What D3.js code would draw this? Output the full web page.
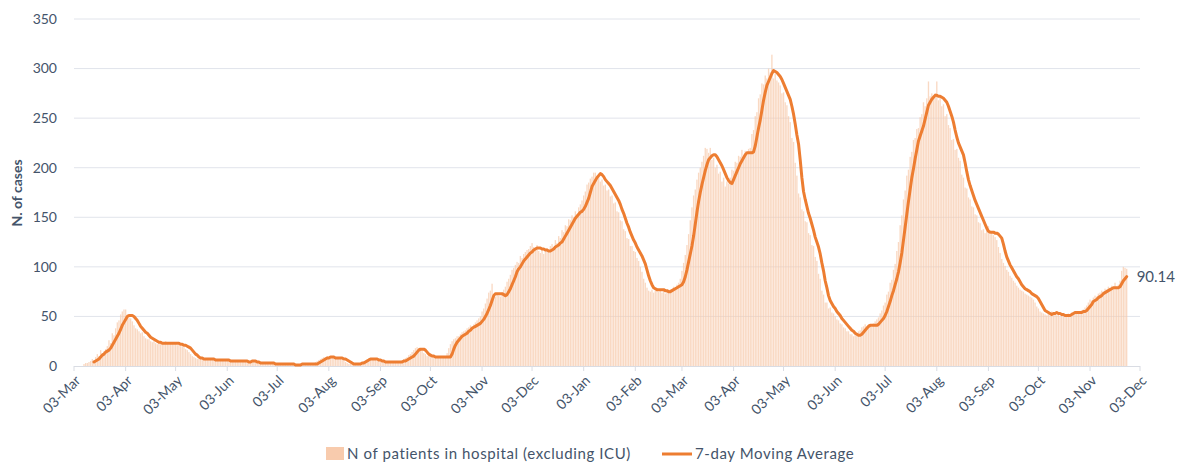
<!DOCTYPE html>
<html><head><meta charset="utf-8">
<script src="https://cdn.jsdelivr.net/npm/d3@7"></script>
<style>
body{margin:0;background:#fff}
text{font-family:Lato,"Open Sans",sans-serif}
</style>
</head><body>
<svg id="chart" width="1184" height="464"></svg>
<script>
// ---- Data: daily N of patients in hospital (excluding ICU), one array per month ----
const patientMonthStarts = ["2020-03-09","2020-04-01","2020-05-01","2020-06-01","2020-07-01","2020-08-01","2020-09-01","2020-10-01","2020-11-01","2020-12-01","2021-01-01","2021-02-01","2021-03-01","2021-04-01","2021-05-01","2021-06-01","2021-07-01","2021-08-01","2021-09-01","2021-10-01","2021-11-01"];
const pMar20 = [2,3,3,4,5,7,6,9,12,10,16,13,15,17,20,26,23,33,31,38,44,46,52];
const pApr20 = [55,57,57,52,49,48,45,41,38,37,35,33,34,30,28,27,27,25,24,25,23,22,24,23,22,24,25,23,22,24];
const pMay20 = [23,22,23,21,22,20,20,19,17,16,14,12,10,9,8,7,7,7,8,7,7,6,7,7,6,6,6,7,6,6,6];
const pJun20 = [6,5,6,5,5,5,6,5,5,5,4,5,5,5,4,4,5,6,5,4,4,3,3,3,3,3,3,3,2,2];
const pJul20 = [2,2,2,2,2,2,2,2,2,2,1,1,1,1,2,2,2,2,2,2,2,2,2,2,3,4,5,6,7,8,9];
const pAug20 = [9,10,9,8,9,8,8,8,7,7,6,5,4,3,2,2,2,2,2,2,3,3,4,5,6,7,8,7,7,7,6];
const pSep20 = [5,5,4,4,4,4,4,4,4,4,4,4,4,5,5,6,7,8,9,11,12,14,16,18,19,18,17,15,13,12];
const pOct20 = [10,10,9,9,8,9,9,10,9,8,9,9,13,18,22,25,27,28,30,30,32,34,35,36,38,39,41,40,42,44,46];
const pNov20 = [48,50,55,58,63,68,74,76,83,72,70,73,71,70,73,77,80,85,88,92,97,99,102,105,104,111,109,113,115,117];
const pDec20 = [118,121,124,120,117,122,116,114,118,113,117,119,116,121,123,120,127,124,131,129,137,135,142,141,148,147,152,150,156,153,160];
const pJan21 = [163,167,172,176,183,185,189,191,195,195,192,194,186,188,182,183,177,178,171,172,164,165,156,155,147,146,138,136,129,128,121];
const pFeb21 = [121,116,115,109,106,100,95,88,84,79,76,75,77,74,76,78,75,77,74,76,73,75,74,77,76,80,78,82];
const pMar21 = [84,88,96,104,112,122,133,147,160,172,178,188,195,200,206,212,220,219,215,220,208,210,200,203,194,196,186,190,181,186,184];
const pApr21 = [190,198,197,206,205,212,211,218,212,217,213,219,220,234,238,252,256,270,274,285,284,293,290,300,296,314,290,295,288,286];
const pMay21 = [283,275,276,266,263,252,246,230,226,205,192,174,170,158,156,146,145,134,132,122,121,110,106,93,88,76,72,64,64,58,59];
const pJun21 = [54,53,50,47,46,43,42,39,38,35,35,32,32,30,31,31,35,36,39,40,42,40,42,41,40,43,45,47,49,53];
const pJul21 = [56,61,64,72,75,84,87,97,103,116,125,142,152,168,177,192,198,211,216,228,230,239,240,251,254,266,262,270,287,272,275];
const pAug21 = [270,275,287,268,271,262,264,252,254,243,240,228,229,218,219,210,207,193,190,180,179,170,168,161,160,153,152,145,144,137,138];
const pSep21 = [134,137,141,133,136,132,130,127,120,114,108,104,101,97,95,91,89,86,84,81,79,77,76,75,73,72,71,70,69,67];
const pOct21 = [64,60,58,55,54,53,52,51,54,52,55,53,52,51,53,50,52,50,51,52,53,52,54,53,55,54,53,55,56,57,59];
const pNov21 = [61,64,67,66,69,71,70,73,74,76,75,78,77,80,79,81,78,84,80,82,86,96,100,99,98];
const patientMonths = [pMar20,pApr20,pMay20,pJun20,pJul20,pAug20,pSep20,pOct20,pNov20,pDec20,pJan21,pFeb21,pMar21,pApr21,pMay21,pJun21,pJul21,pAug21,pSep21,pOct21,pNov21];

// ---- Data: 7-day moving average, one array per month ----
const maMonthStarts = ["2020-03-15","2020-04-01","2020-05-01","2020-06-01","2020-07-01","2020-08-01","2020-09-01","2020-10-01","2020-11-01","2020-12-01","2021-01-01","2021-02-01","2021-03-01","2021-04-01","2021-05-01","2021-06-01","2021-07-01","2021-08-01","2021-09-01","2021-10-01","2021-11-01"];
const mMar20 = [4,5,6,7,9,11,12,14,15,16,18,21,24,27,30,33,37];
const mApr20 = [41,44,47,50,51,51,51,50,48,46,43,40,38,36,34,33,31,29,28,27,26,25,24,24,23,23,23,23,23,23];
const mMay20 = [23,23,23,23,23,22,22,21,21,20,19,18,16,14,12,11,9,8,8,7,7,7,7,7,7,7,6,6,6,6,6];
const mJun20 = [6,6,6,6,5,5,5,5,5,5,5,5,5,5,5,4,4,5,5,5,4,4,3,3,3,3,3,3,3,3];
const mJul20 = [3,2,2,2,2,2,2,2,2,2,2,2,2,1,1,1,1,2,2,2,2,2,2,2,2,2,2,3,4,5,6];
const mAug20 = [7,8,8,9,9,9,8,8,8,8,8,7,7,6,5,4,3,2,2,2,2,2,3,3,4,5,6,7,7,7,7];
const mSep20 = [7,6,6,5,5,4,4,4,4,4,4,4,4,4,4,4,5,5,6,7,8,9,10,12,14,16,17,17,17,16];
const mOct20 = [14,12,11,10,10,9,9,9,9,9,9,9,9,9,9,12,17,21,24,26,28,30,31,32,33,35,36,38,39,40,41];
const mNov20 = [42,43,45,47,50,53,57,61,66,71,73,73,73,73,73,72,71,72,75,78,82,86,90,95,98,100,103,106,108,110];
const mDec20 = [112,114,115,117,118,119,119,119,118,118,117,117,116,116,117,118,120,121,122,124,125,128,131,134,137,140,143,146,149,151,153];
const mJan21 = [155,156,158,161,165,169,175,181,184,187,190,192,194,193,191,188,186,184,182,179,176,173,170,167,163,158,154,149,144,140,135];
const mFeb21 = [131,127,124,120,117,114,111,107,103,97,91,86,82,79,78,77,77,77,77,77,76,76,75,75,76,77,78,79];
const mMar21 = [80,81,82,85,90,97,105,113,121,131,143,155,166,175,183,190,197,203,208,210,212,213,213,211,208,205,202,198,194,190,187];
const mApr21 = [185,184,188,192,196,200,204,207,210,213,215,215,215,215,216,222,231,240,248,258,268,276,283,287,291,295,298,297,296,294];
const mMay21 = [292,289,285,281,277,273,269,262,254,244,233,224,208,190,176,168,161,154,149,143,137,130,125,120,113,104,96,86,79,71,66];
const mJun21 = [63,60,58,55,53,51,48,46,44,42,40,38,36,35,33,32,31,31,32,34,36,38,40,41,41,41,41,41,42,44];
const mJul21 = [46,48,51,55,60,65,71,76,82,88,95,104,114,127,140,153,166,178,190,199,209,218,227,232,237,242,249,256,263,266,269];
const mAug21 = [271,273,273,272,272,271,270,268,266,262,257,252,246,238,231,225,221,217,213,205,196,188,182,177,172,167,163,159,155,151,147];
const mSep21 = [143,139,136,135,135,135,134,134,133,131,129,123,116,110,106,102,99,96,93,90,88,85,82,80,78,77,76,75,73,72];
const mOct21 = [71,70,68,65,62,59,56,55,54,53,52,53,53,54,53,53,52,52,51,51,51,51,52,53,54,54,54,54,54,55,55];
const mNov21 = [56,58,60,62,65,66,67,69,70,71,73,74,75,76,77,78,79,79,79,79,80,83,86,88,90.14];
const maMonths = [mMar20,mApr20,mMay20,mJun20,mJul20,mAug20,mSep20,mOct20,mNov20,mDec20,mJan21,mFeb21,mMar21,mApr21,mMay21,mJun21,mJul21,mAug21,mSep21,mOct21,mNov21];

// ---- Axis ticks / labels ----
const xTickDates = ["2020-03-03","2020-04-03","2020-05-03","2020-06-03","2020-07-03","2020-08-03","2020-09-03","2020-10-03","2020-11-03","2020-12-03","2021-01-03","2021-02-03","2021-03-03","2021-04-03","2021-05-03","2021-06-03","2021-07-03","2021-08-03","2021-09-03","2021-10-03","2021-11-03","2021-12-03"];
const xTickLabels = ["03-Mar","03-Apr","03-May","03-Jun","03-Jul","03-Aug","03-Sep","03-Oct","03-Nov","03-Dec","03-Jan","03-Feb","03-Mar","03-Apr","03-May","03-Jun","03-Jul","03-Aug","03-Sep","03-Oct","03-Nov","03-Dec"];
const yTicks = [0,50,100,150,200,250,300,350];
const seriesNames = ["N of patients in hospital (excluding ICU)","7-day Moving Average"];
const yTitle = "N. of cases";

// ---- Build daily records ----
const parse = d3.utcParse("%Y-%m-%d");
function expand(starts, months){
  const out = [];
  months.forEach((arr, i) => {
    const s = parse(starts[i]);
    arr.forEach((v, j) => out.push({date: d3.utcDay.offset(s, j), value: v}));
  });
  return out;
}
const bars = expand(patientMonthStarts, patientMonths);
const ma = expand(maMonthStarts, maMonths);

const svg = d3.select("#chart");
const textCol = "#44546A";
const x = d3.scaleUtc().domain([parse(xTickDates[0]), parse(xTickDates[xTickDates.length-1])]).range([74, 1140]);
const y = d3.scaleLinear().domain([0, 350]).range([366, 19]);
const step = x(parse("2020-03-04")) - x(parse("2020-03-03"));

// gridlines
svg.append("g").selectAll("line").data(yTicks.filter(d => d > 0)).join("line")
  .attr("x1", 74).attr("x2", 1140).attr("y1", d => y(d)).attr("y2", d => y(d))
  .attr("stroke", "#E1E4EB").attr("stroke-width", 1);

// y labels
svg.append("g").selectAll("text").data(yTicks).join("text")
  .attr("x", 57).attr("y", d => y(d)).attr("dy", "0.35em")
  .attr("text-anchor", "end").attr("font-size", 14).attr("fill", textCol)
  .text(d => d);

// y title
svg.append("text").attr("transform", "translate(22,193) rotate(-90)")
  .attr("text-anchor", "middle").attr("font-size", 14).attr("font-weight", "bold")
  .attr("fill", textCol).text(yTitle);

// bars
svg.append("g").attr("opacity", 0.72).selectAll("rect").data(bars).join("rect")
  .attr("x", d => x(d.date) - step * 0.4).attr("width", step * 0.8)
  .attr("y", d => y(d.value)).attr("height", d => y(0) - y(d.value))
  .attr("fill", "#F8CBAD");

// x axis line and ticks
svg.append("line").attr("x1", 74).attr("x2", 1140).attr("y1", 366.5).attr("y2", 366.5)
  .attr("stroke", "#D9DCE3").attr("stroke-width", 1);
const xt = svg.append("g").selectAll("g").data(xTickDates).join("g")
  .attr("transform", d => `translate(${x(parse(d))},366)`);
xt.append("line").attr("y1", 0).attr("y2", 5).attr("stroke", "#D9DCE3");
xt.append("text").attr("transform", "translate(4,12) rotate(-45)")
  .attr("text-anchor", "end").attr("dy", "0.35em").attr("font-size", 14).attr("fill", textCol)
  .text((d, i) => xTickLabels[i]);

// moving average line
svg.append("path").datum(ma)
  .attr("d", d3.line().x(d => x(d.date)).y(d => y(d.value)))
  .attr("fill", "none").attr("stroke", "#ED7D31").attr("stroke-width", 3)
  .attr("stroke-linejoin", "round").attr("stroke-linecap", "round");

// last value label
const last = ma[ma.length - 1];
svg.append("text").attr("x", x(last.date) + 10).attr("y", y(last.value)).attr("dy", "0.35em")
  .attr("font-size", 15).attr("fill", textCol).text(d3.format(".2f")(last.value));

// legend
const lg = svg.append("g");
lg.append("rect").attr("x", 326).attr("y", 447).attr("width", 18).attr("height", 13).attr("fill", "#F8CBAD");
lg.append("text").attr("x", 347).attr("y", 454).attr("dy", "0.35em").attr("font-size", 15)
  .attr("letter-spacing", 0.6).attr("fill", textCol).text(seriesNames[0]);
lg.append("line").attr("x1", 662).attr("x2", 692).attr("y1", 454).attr("y2", 454).attr("stroke", "#ED7D31").attr("stroke-width", 3);
lg.append("text").attr("x", 695).attr("y", 454).attr("dy", "0.35em").attr("font-size", 15)
  .attr("letter-spacing", 0.6).attr("fill", textCol).text(seriesNames[1]);
</script>
</body></html>
